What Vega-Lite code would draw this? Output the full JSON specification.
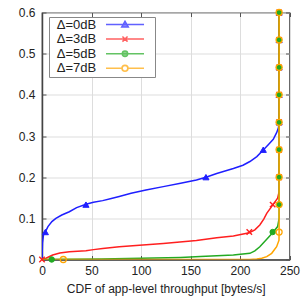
{
  "$schema": "https://vega.github.io/schema/vega-lite/v6.json",
  "width": 247.5,
  "height": 247,
  "autosize": {"type": "none"},
  "padding": {"left": 42, "top": 12.5, "right": 12.5, "bottom": 43.5},
  "background": "white",
  "config": {
    "font": "Liberation Sans",
    "view": {"stroke": "#444", "strokeWidth": 1.2},
    "axis": {"labelFont": "Liberation Sans", "labelFontSize": 12, "labelColor": "#222", "titleFont": "Liberation Sans", "titleFontSize": 12, "titleFontWeight": "normal", "titleColor": "#222", "gridColor": "#dddddd", "gridWidth": 1, "tickColor": "#555", "domainColor": "#444", "labelFlush": false}
  },
  "datasets": {
    "curves": [
      {"series": "Δ=0dB", "i": 0, "x": 0, "y": 0},
      {"series": "Δ=0dB", "i": 1, "x": 0.5, "y": 0.04},
      {"series": "Δ=0dB", "i": 2, "x": 1.5, "y": 0.06},
      {"series": "Δ=0dB", "i": 3, "x": 3.4, "y": 0.067},
      {"series": "Δ=0dB", "i": 4, "x": 6, "y": 0.08},
      {"series": "Δ=0dB", "i": 5, "x": 10, "y": 0.092},
      {"series": "Δ=0dB", "i": 6, "x": 14, "y": 0.1},
      {"series": "Δ=0dB", "i": 7, "x": 20, "y": 0.108},
      {"series": "Δ=0dB", "i": 8, "x": 27.6, "y": 0.116},
      {"series": "Δ=0dB", "i": 9, "x": 35, "y": 0.126},
      {"series": "Δ=0dB", "i": 10, "x": 44.4, "y": 0.134},
      {"series": "Δ=0dB", "i": 11, "x": 52, "y": 0.139},
      {"series": "Δ=0dB", "i": 12, "x": 61.3, "y": 0.143},
      {"series": "Δ=0dB", "i": 13, "x": 70, "y": 0.148},
      {"series": "Δ=0dB", "i": 14, "x": 78, "y": 0.153},
      {"series": "Δ=0dB", "i": 15, "x": 90, "y": 0.161},
      {"series": "Δ=0dB", "i": 16, "x": 105, "y": 0.169},
      {"series": "Δ=0dB", "i": 17, "x": 122.5, "y": 0.177},
      {"series": "Δ=0dB", "i": 18, "x": 140, "y": 0.185},
      {"series": "Δ=0dB", "i": 19, "x": 156, "y": 0.193},
      {"series": "Δ=0dB", "i": 20, "x": 165.6, "y": 0.2},
      {"series": "Δ=0dB", "i": 21, "x": 176.5, "y": 0.209},
      {"series": "Δ=0dB", "i": 22, "x": 193.3, "y": 0.221},
      {"series": "Δ=0dB", "i": 23, "x": 203, "y": 0.229},
      {"series": "Δ=0dB", "i": 24, "x": 210, "y": 0.238},
      {"series": "Δ=0dB", "i": 25, "x": 217, "y": 0.25},
      {"series": "Δ=0dB", "i": 26, "x": 223.5, "y": 0.266},
      {"series": "Δ=0dB", "i": 27, "x": 229, "y": 0.28},
      {"series": "Δ=0dB", "i": 28, "x": 233.6, "y": 0.292},
      {"series": "Δ=0dB", "i": 29, "x": 237, "y": 0.308},
      {"series": "Δ=0dB", "i": 30, "x": 238.8, "y": 0.32},
      {"series": "Δ=0dB", "i": 31, "x": 239.5, "y": 0.333},
      {"series": "Δ=0dB", "i": 32, "x": 239.5, "y": 0.6},
      {"series": "Δ=3dB", "i": 0, "x": 0, "y": 0},
      {"series": "Δ=3dB", "i": 1, "x": 4, "y": 0.003},
      {"series": "Δ=3dB", "i": 2, "x": 10.8, "y": 0.011},
      {"series": "Δ=3dB", "i": 3, "x": 18, "y": 0.016},
      {"series": "Δ=3dB", "i": 4, "x": 27.6, "y": 0.019},
      {"series": "Δ=3dB", "i": 5, "x": 44.4, "y": 0.021},
      {"series": "Δ=3dB", "i": 6, "x": 52, "y": 0.024},
      {"series": "Δ=3dB", "i": 7, "x": 61.3, "y": 0.027},
      {"series": "Δ=3dB", "i": 8, "x": 78, "y": 0.031},
      {"series": "Δ=3dB", "i": 9, "x": 95, "y": 0.034},
      {"series": "Δ=3dB", "i": 10, "x": 122.5, "y": 0.039},
      {"series": "Δ=3dB", "i": 11, "x": 156, "y": 0.046},
      {"series": "Δ=3dB", "i": 12, "x": 176.5, "y": 0.053},
      {"series": "Δ=3dB", "i": 13, "x": 193.3, "y": 0.057},
      {"series": "Δ=3dB", "i": 14, "x": 209.4, "y": 0.065},
      {"series": "Δ=3dB", "i": 15, "x": 215, "y": 0.072},
      {"series": "Δ=3dB", "i": 16, "x": 220, "y": 0.084},
      {"series": "Δ=3dB", "i": 17, "x": 224, "y": 0.098},
      {"series": "Δ=3dB", "i": 18, "x": 227, "y": 0.112},
      {"series": "Δ=3dB", "i": 19, "x": 233, "y": 0.132},
      {"series": "Δ=3dB", "i": 20, "x": 238, "y": 0.149},
      {"series": "Δ=3dB", "i": 21, "x": 239.5, "y": 0.165},
      {"series": "Δ=3dB", "i": 22, "x": 239.5, "y": 0.6},
      {"series": "Δ=5dB", "i": 0, "x": 0, "y": 0},
      {"series": "Δ=5dB", "i": 1, "x": 60, "y": 0.001},
      {"series": "Δ=5dB", "i": 2, "x": 100, "y": 0.003},
      {"series": "Δ=5dB", "i": 3, "x": 140, "y": 0.005},
      {"series": "Δ=5dB", "i": 4, "x": 160, "y": 0.007},
      {"series": "Δ=5dB", "i": 5, "x": 193.3, "y": 0.011},
      {"series": "Δ=5dB", "i": 6, "x": 210, "y": 0.015},
      {"series": "Δ=5dB", "i": 7, "x": 215, "y": 0.021},
      {"series": "Δ=5dB", "i": 8, "x": 220, "y": 0.031},
      {"series": "Δ=5dB", "i": 9, "x": 227, "y": 0.049},
      {"series": "Δ=5dB", "i": 10, "x": 233, "y": 0.065},
      {"series": "Δ=5dB", "i": 11, "x": 238, "y": 0.08},
      {"series": "Δ=5dB", "i": 12, "x": 239.5, "y": 0.1},
      {"series": "Δ=5dB", "i": 13, "x": 239.5, "y": 0.6},
      {"series": "Δ=7dB", "i": 0, "x": 0, "y": 0},
      {"series": "Δ=7dB", "i": 1, "x": 210, "y": 0},
      {"series": "Δ=7dB", "i": 2, "x": 217, "y": 0.001},
      {"series": "Δ=7dB", "i": 3, "x": 222, "y": 0.003},
      {"series": "Δ=7dB", "i": 4, "x": 227, "y": 0.007},
      {"series": "Δ=7dB", "i": 5, "x": 232, "y": 0.015},
      {"series": "Δ=7dB", "i": 6, "x": 237, "y": 0.031},
      {"series": "Δ=7dB", "i": 7, "x": 239.4, "y": 0.047},
      {"series": "Δ=7dB", "i": 8, "x": 239.5, "y": 0.067},
      {"series": "Δ=7dB", "i": 9, "x": 239.5, "y": 0.6}
    ],
    "markers": [
      {"series": "Δ=0dB", "x": 3.4, "y": 0.0667},
      {"series": "Δ=0dB", "x": 44.4, "y": 0.1333},
      {"series": "Δ=0dB", "x": 165.6, "y": 0.2},
      {"series": "Δ=0dB", "x": 223.5, "y": 0.2667},
      {"series": "Δ=0dB", "x": 239.5, "y": 0.3333},
      {"series": "Δ=0dB", "x": 239.5, "y": 0.4},
      {"series": "Δ=0dB", "x": 239.5, "y": 0.4667},
      {"series": "Δ=0dB", "x": 239.5, "y": 0.5333},
      {"series": "Δ=0dB", "x": 239.5, "y": 0.6},
      {"series": "Δ=3dB", "x": 0, "y": 0},
      {"series": "Δ=3dB", "x": 209.4, "y": 0.0667},
      {"series": "Δ=3dB", "x": 233, "y": 0.1333},
      {"series": "Δ=3dB", "x": 239.5, "y": 0.2},
      {"series": "Δ=3dB", "x": 239.5, "y": 0.2667},
      {"series": "Δ=3dB", "x": 239.5, "y": 0.3333},
      {"series": "Δ=3dB", "x": 239.5, "y": 0.4},
      {"series": "Δ=3dB", "x": 239.5, "y": 0.4667},
      {"series": "Δ=3dB", "x": 239.5, "y": 0.5333},
      {"series": "Δ=3dB", "x": 239.5, "y": 0.6},
      {"series": "Δ=5dB", "x": 9.8, "y": 0},
      {"series": "Δ=5dB", "x": 233, "y": 0.0667},
      {"series": "Δ=5dB", "x": 239.5, "y": 0.1333},
      {"series": "Δ=5dB", "x": 239.5, "y": 0.2},
      {"series": "Δ=5dB", "x": 239.5, "y": 0.2667},
      {"series": "Δ=5dB", "x": 239.5, "y": 0.3333},
      {"series": "Δ=5dB", "x": 239.5, "y": 0.4},
      {"series": "Δ=5dB", "x": 239.5, "y": 0.4667},
      {"series": "Δ=5dB", "x": 239.5, "y": 0.5333},
      {"series": "Δ=5dB", "x": 239.5, "y": 0.6},
      {"series": "Δ=7dB", "x": 21.5, "y": 0},
      {"series": "Δ=7dB", "x": 239.5, "y": 0.0667},
      {"series": "Δ=7dB", "x": 239.5, "y": 0.1333},
      {"series": "Δ=7dB", "x": 239.5, "y": 0.2},
      {"series": "Δ=7dB", "x": 239.5, "y": 0.2667},
      {"series": "Δ=7dB", "x": 239.5, "y": 0.3333},
      {"series": "Δ=7dB", "x": 239.5, "y": 0.4},
      {"series": "Δ=7dB", "x": 239.5, "y": 0.4667},
      {"series": "Δ=7dB", "x": 239.5, "y": 0.5333},
      {"series": "Δ=7dB", "x": 239.5, "y": 0.6}
    ]
  },
  "layer": [
    {
      "data": {"name": "curves"},
      "transform": [{"filter": "datum.series === 'Δ=0dB'"}],
      "mark": {"type": "line", "strokeWidth": 1.5, "clip": true, "color": "#1f1fff"},
      "encoding": {
        "x": {"field": "x", "type": "quantitative", "scale": {"domain": [0, 250], "nice": false, "zero": false},
          "axis": {"orient": "bottom", "values": [0, 50, 100, 150, 200, 250], "grid": true, "tickSize": -4, "labelPadding": 10, "title": "CDF of app-level throughput [bytes/s]", "titlePadding": 7, "domainWidth": 1.5}},
        "y": {"field": "y", "type": "quantitative", "scale": {"domain": [0, 0.6], "nice": false},
          "axis": {"orient": "left", "values": [0, 0.1, 0.2, 0.3, 0.4, 0.5, 0.6], "format": "~g", "grid": true, "tickSize": -4, "labelPadding": 11, "title": null, "domainWidth": 1.5}},
        "order": {"field": "i", "type": "quantitative"}
      }
    },
    {
      "data": {"name": "curves"},
      "transform": [{"filter": "datum.series === 'Δ=3dB'"}],
      "mark": {"type": "line", "strokeWidth": 1.5, "clip": true, "color": "#ff1f1f"},
      "encoding": {
        "x": {"field": "x", "type": "quantitative", "axis": null},
        "y": {"field": "y", "type": "quantitative", "axis": null},
        "order": {"field": "i", "type": "quantitative"}
      }
    },
    {
      "data": {"name": "curves"},
      "transform": [{"filter": "datum.series === 'Δ=5dB'"}],
      "mark": {"type": "line", "strokeWidth": 1.5, "clip": true, "color": "#22aa22"},
      "encoding": {
        "x": {"field": "x", "type": "quantitative", "axis": null},
        "y": {"field": "y", "type": "quantitative", "axis": null},
        "order": {"field": "i", "type": "quantitative"}
      }
    },
    {
      "data": {"name": "curves"},
      "transform": [{"filter": "datum.series === 'Δ=7dB'"}],
      "mark": {"type": "line", "strokeWidth": 1.5, "clip": true, "color": "#ffa500"},
      "encoding": {
        "x": {"field": "x", "type": "quantitative", "axis": null},
        "y": {"field": "y", "type": "quantitative", "axis": null},
        "order": {"field": "i", "type": "quantitative"}
      }
    },
    {
      "data": {"name": "markers"},
      "transform": [{"filter": "datum.series === 'Δ=0dB'"}],
      "mark": {"type": "point", "shape": "triangle-up", "size": 38, "fill": "#1f1fff", "stroke": "#1f1fff", "strokeWidth": 1, "opacity": 1},
      "encoding": {
        "x": {"field": "x", "type": "quantitative", "axis": null},
        "y": {"field": "y", "type": "quantitative", "axis": null}
      }
    },
    {
      "data": {"name": "markers"},
      "transform": [{"filter": "datum.series === 'Δ=3dB'"}],
      "mark": {"type": "point", "shape": "M-1,-1L1,1M-1,1L1,-1", "size": 30, "fill": "transparent", "stroke": "#ff1f1f", "strokeWidth": 1.4, "opacity": 1},
      "encoding": {
        "x": {"field": "x", "type": "quantitative", "axis": null},
        "y": {"field": "y", "type": "quantitative", "axis": null}
      }
    },
    {
      "data": {"name": "markers"},
      "transform": [{"filter": "datum.series === 'Δ=5dB'"}],
      "mark": {"type": "point", "shape": "circle", "size": 30, "fill": "#22aa22", "stroke": "#22aa22", "strokeWidth": 1, "opacity": 1},
      "encoding": {
        "x": {"field": "x", "type": "quantitative", "axis": null},
        "y": {"field": "y", "type": "quantitative", "axis": null}
      }
    },
    {
      "data": {"name": "markers"},
      "transform": [{"filter": "datum.series === 'Δ=7dB'"}],
      "mark": {"type": "point", "shape": "circle", "size": 36, "fill": "transparent", "stroke": "#ffa500", "strokeWidth": 1.3, "opacity": 1},
      "encoding": {
        "x": {"field": "x", "type": "quantitative", "axis": null},
        "y": {"field": "y", "type": "quantitative", "axis": null}
      }
    },
    {
      "data": {"name": "markers"},
      "transform": [{"filter": "datum.x < -1"}],
      "mark": {"type": "point", "size": 36, "strokeWidth": 1.5},
      "encoding": {
        "x": {"field": "x", "type": "quantitative", "axis": null},
        "y": {"field": "y", "type": "quantitative", "axis": null},
        "fill": {"field": "series", "type": "nominal",
          "scale": {"domain": ["Δ=0dB", "Δ=3dB", "Δ=5dB", "Δ=7dB"], "range": ["#1f1fff", "#ff1f1f", "#22aa22", "#ffa500"]},
          "legend": {
            "orient": "none", "legendX": 7, "legendY": 4.5, "title": null, "direction": "vertical",
            "labelFont": "Liberation Sans", "labelFontSize": 13, "labelColor": "#222",
            "labelOffset": -6.3, "symbolOffset": 0, "symbolSize": 36, "symbolStrokeWidth": 1.5, "symbolOpacity": 1,
            "fillColor": "white", "strokeColor": "#888", "padding": 1, "rowPadding": 0.6
          }},
        "stroke": {"field": "series", "type": "nominal",
          "scale": {"domain": ["Δ=0dB", "Δ=3dB", "Δ=5dB", "Δ=7dB"], "range": ["#1f1fff", "#ff1f1f", "#22aa22", "#ffa500"]}},
        "shape": {"field": "series", "type": "nominal",
          "scale": {"domain": ["Δ=0dB", "Δ=3dB", "Δ=5dB", "Δ=7dB"], "range": [
            "M-2.17,0M31.5,0M16.5,0H29.17M21.73,0.85L22.83,-1.05L23.93,0.85Z",
            "M-2.17,0M31.5,0M16.5,0H29.17M21.98,-0.85L23.68,0.85M21.98,0.85L23.68,-0.85",
            "M-2.17,0M31.5,0M16.5,0H29.17M21.93,0A0.9,0.9 0 1,0 23.73,0A0.9,0.9 0 1,0 21.93,0",
            "M-2.17,0M31.5,0M16.5,0H21.83M23.83,0H29.17M21.83,0A1,1 0 1,0 23.83,0A1,1 0 1,0 21.83,0M21.88,0A0.95,0.95 0 1,1 23.78,0A0.95,0.95 0 1,1 21.88,0"
          ]}}
      }
    },
    {
      "data": {"name": "markers"},
      "mark": {"type": "point", "opacity": 0},
      "encoding": {
        "x": {"field": "x", "type": "quantitative",
          "axis": {"orient": "top", "values": [0, 50, 100, 150, 200, 250], "labels": false, "grid": false, "domain": false, "tickSize": -4, "title": null}},
        "y": {"field": "y", "type": "quantitative",
          "axis": {"orient": "right", "values": [0, 0.1, 0.2, 0.3, 0.4, 0.5, 0.6], "labels": false, "grid": false, "domain": false, "tickSize": -4, "title": null}}
      }
    }
  ],
  "resolve": {"axis": {"x": "independent", "y": "independent"}}
}
